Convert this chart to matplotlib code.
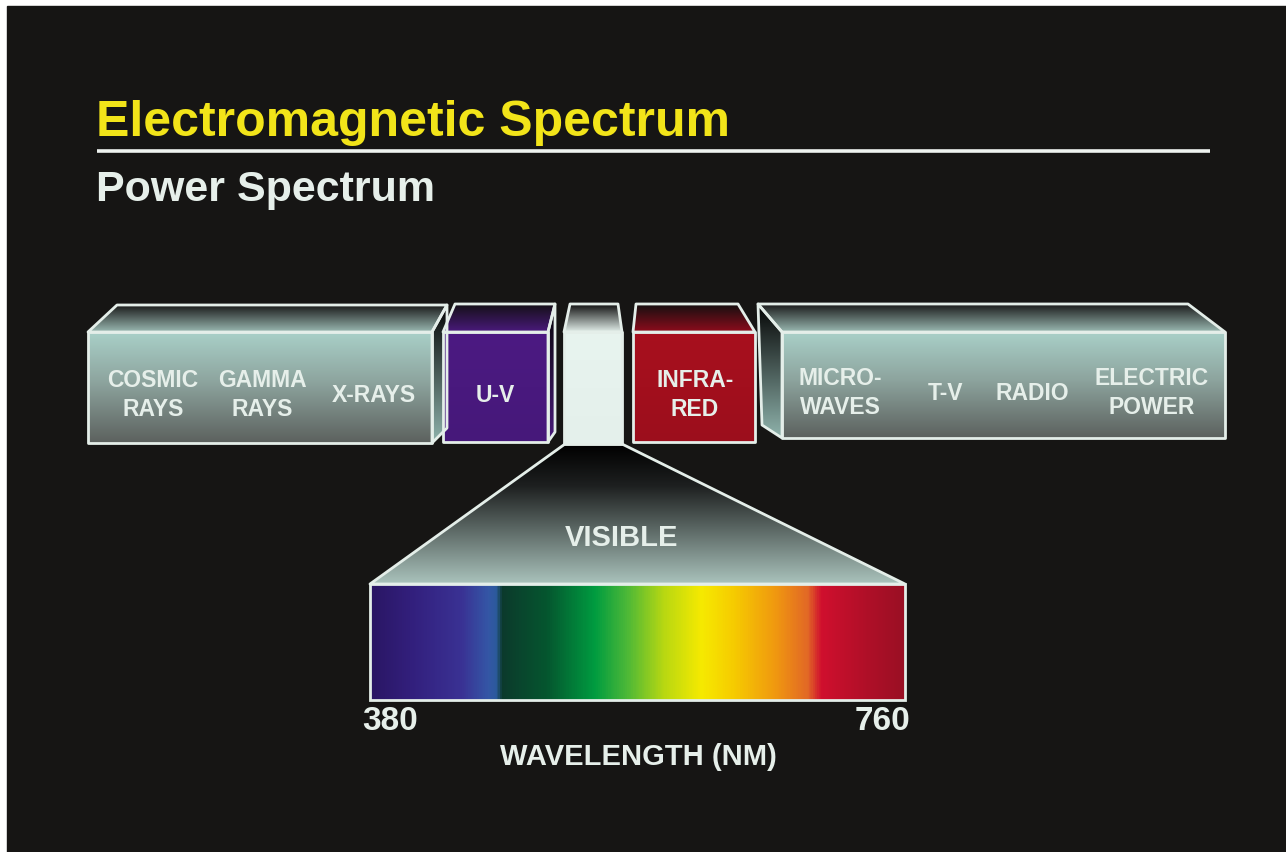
import numpy as np
import matplotlib
matplotlib.use('Agg')
import matplotlib.pyplot as plt
from matplotlib.colors import LinearSegmentedColormap
from matplotlib.patches import Polygon, Rectangle

plt.rcParams['font.family'] = ['Liberation Sans', 'DejaVu Sans']

title = 'Electromagnetic Spectrum'
subtitle = 'Power Spectrum'

# labels on the band boxes
left_labels = ['COSMIC\nRAYS', 'GAMMA\nRAYS', 'X-RAYS']
right_labels = ['MICRO-\nWAVES', 'T-V', 'RADIO', 'ELECTRIC\nPOWER']
uv_label = 'U-V'
ir_label = 'INFRA-\nRED'
visible_label = 'VISIBLE'

wl_min, wl_max = 380, 760
axis_label = 'WAVELENGTH (NM)'

# colour along the visible band, position as fraction of 380..760
spec_pos = [0.0, 0.08, 0.17, 0.22, 0.235, 0.245, 0.33, 0.42, 0.48, 0.55, 0.62, 0.68, 0.76, 0.82, 0.845, 0.93, 1.0]
spec_col = ['#2a1664', '#33207e', '#3a3294', '#3457a6', '#2b5a9c', '#0c3a2c', '#05562f', '#009c40',
            '#4cb838', '#b8d812', '#f6ea00', '#f6cc00', '#f09810', '#e26826', '#d0102e', '#b00f28', '#9a1024']

BG = '#161514'
LINE = '#e4eee9'
TXT = '#e6efea'

fig = plt.figure(figsize=(12.86, 8.52), dpi=100, facecolor='white')
ax = fig.add_axes([0, 0, 1, 1])
ax.set_xlim(0, 1286)
ax.set_ylim(852, 0)
ax.axis('off')
ax.add_patch(Rectangle((7, 6), 1290, 860, color=BG, zorder=0))


def grad_poly(verts, stops, z=2):
    verts = np.array(verts, float)
    x0, y0 = verts.min(axis=0)
    x1, y1 = verts.max(axis=0)
    cmap = LinearSegmentedColormap.from_list('g', stops)
    img = cmap(np.linspace(0, 1, 256))[:, None, :]
    im = ax.imshow(img, extent=(x0, x1, y1, y0), origin='upper', aspect='auto',
                   interpolation='bilinear', zorder=z)
    poly = Polygon(verts, closed=True, facecolor='none', edgecolor=LINE,
                   lw=2.0, joinstyle='round', zorder=z + 0.5)
    ax.add_patch(poly)
    im.set_clip_path(poly)
    return poly


# funnel below the visible box
grad_poly([(565, 444), (622, 444), (905, 584), (370, 584)],
          [(0, '#000000'), (0.3, '#1e2020'), (1, '#aac3bc')], z=1)

gray_front = [(0, '#a9d0c8'), (0.45, '#8da49e'), (1, '#5c615e')]
gray_top = [(0, '#1a1a1a'), (1, '#9ab9b2')]

# left box
grad_poly([(432, 332), (447, 305), (447, 428), (432, 443)], [(0, '#050505'), (1, '#8fb3ac')])
grad_poly([(88, 332), (432, 332), (447, 305), (117, 305)], gray_top)
grad_poly([(88, 332), (432, 332), (432, 443), (88, 443)], gray_front)

# U-V box
grad_poly([(548, 332), (555, 304), (555, 432), (548, 442)], [(0, '#050505'), (1, '#4a1c7c')])
grad_poly([(443, 332), (548, 332), (555, 304), (455, 304)], [(0, '#141016'), (1, '#4a1a7c')])
grad_poly([(443, 332), (548, 332), (548, 442), (443, 442)], [(0, '#4c1a82'), (1, '#46187a')])

# visible box
grad_poly([(564, 332), (622, 332), (618, 304), (570, 304)], [(0, '#101010'), (1, '#e2efea')])
grad_poly([(564, 332), (622, 332), (622, 444), (564, 444)], [(0, '#e8f4ef'), (1, '#e4f0eb')])

# infra-red box
grad_poly([(633, 332), (755, 332), (738, 304), (636, 304)], [(0, '#141010'), (1, '#8e0c1c')])
grad_poly([(633, 332), (755, 332), (755, 442), (633, 442)], [(0, '#a8101e'), (1, '#9c0e1c')])

# right box
grad_poly([(758, 304), (782, 332), (782, 438), (762, 425)], [(0, '#050505'), (1, '#8fb3ac')])
grad_poly([(782, 332), (1225, 332), (1188, 304), (758, 304)], gray_top)
grad_poly([(782, 332), (1225, 332), (1225, 438), (782, 438)], gray_front)

# spectrum bar
cmap = LinearSegmentedColormap.from_list('spec', list(zip(spec_pos, spec_col)))
wl = np.linspace(wl_min, wl_max, 600)
ax.imshow(cmap((wl - wl_min) / (wl_max - wl_min))[None, :, :],
          extent=(370, 905, 700, 584), origin='upper', aspect='auto', zorder=3)
ax.add_patch(Rectangle((370, 584), 535, 116, fill=False, ec=LINE, lw=2.0, zorder=4))

# titles
ax.text(96, 136, title, color='#f2e419', fontsize=36, fontweight='bold', va='baseline', ha='left')
ax.plot([97, 1210], [151, 151], color='#eef2ef', lw=2.6, solid_capstyle='butt')
ax.text(96, 201, subtitle, color=TXT, fontsize=31, fontweight='bold', va='baseline', ha='left')

lab = dict(color=TXT, fontsize=16.5, fontweight='bold', ha='center', va='center',
           linespacing=1.3, zorder=6)
for txt, x in zip(left_labels, [153, 262, 374]):
    ax.text(x, 395, txt, **lab)
ax.text(495, 395, uv_label, **lab)
ax.text(695, 395, ir_label, **lab)
for txt, x in zip(right_labels, [840, 945, 1032, 1152]):
    ax.text(x, 393, txt, **lab)

ax.text(622, 538, visible_label, color=TXT, fontsize=21, fontweight='bold', ha='center', va='center', zorder=6)
ax.text(390, 722, str(wl_min), color=TXT, fontsize=24, fontweight='bold', ha='center', va='center')
ax.text(883, 722, str(wl_max), color=TXT, fontsize=24, fontweight='bold', ha='center', va='center')
ax.text(638, 757, axis_label, color=TXT, fontsize=21, fontweight='bold', ha='center', va='center')

fig.savefig('out.png', dpi=100, facecolor=fig.get_facecolor())
